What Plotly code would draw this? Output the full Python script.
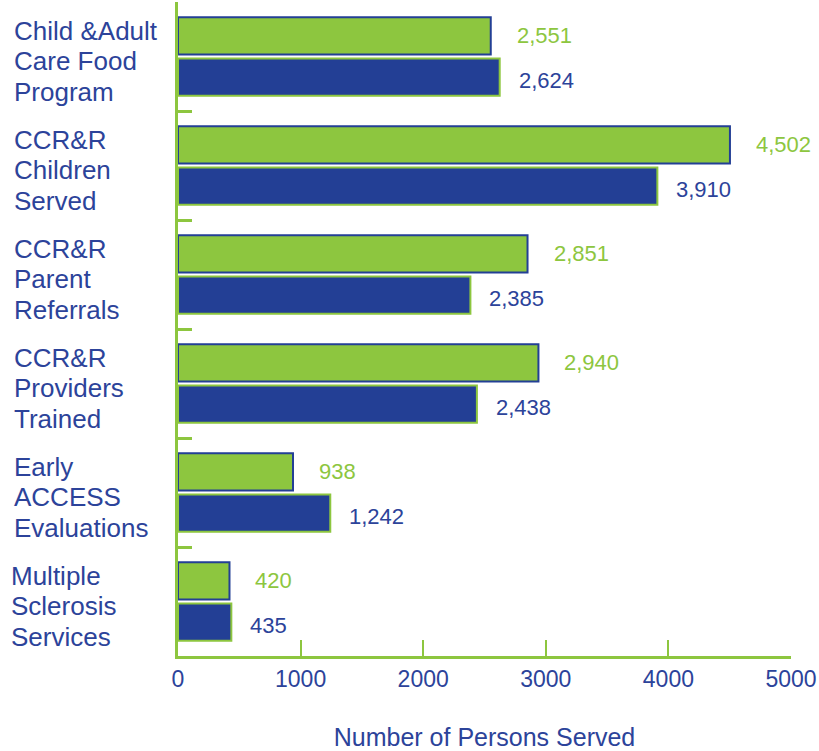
import plotly.graph_objects as go

categories = [
    "Child &Adult Care Food Program",
    "CCR&R Children Served",
    "CCR&R Parent Referrals",
    "CCR&R Providers Trained",
    "Early ACCESS Evaluations",
    "Multiple Sclerosis Services",
]
label_lines = [
    ["Child &Adult", "Care Food", "Program"],
    ["CCR&R", "Children", "Served"],
    ["CCR&R", "Parent", "Referrals"],
    ["CCR&R", "Providers", "Trained"],
    ["Early", "ACCESS", "Evaluations"],
    ["Multiple", "Sclerosis", "Services"],
]
series_green = [2551, 4502, 2851, 2940, 938, 420]
series_blue = [2624, 3910, 2385, 2438, 1242, 435]
x_ticks = [0, 1000, 2000, 3000, 4000, 5000]
x_title = "Number of Persons Served"

GREEN = "#8DC63F"
BLUE = "#233F95"
TXT_BLUE = "#2C439A"
SANS = "Liberation Sans, Arial, sans-serif"

fig = go.Figure()
fig.add_trace(go.Bar(y=categories, x=series_green, orientation="h",
                     marker=dict(color=GREEN, line=dict(color=BLUE, width=2)),
                     hoverinfo="x"))
fig.add_trace(go.Bar(y=categories, x=series_blue, orientation="h",
                     marker=dict(color=BLUE, line=dict(color=GREEN, width=2)),
                     hoverinfo="x"))

annotations = []
for i, (cat, lines) in enumerate(zip(categories, label_lines)):
    offsets = [-26, 4.5, 35]
    x0 = -0.275 if i == 5 else -0.270
    for line, off in zip(lines, offsets):
        annotations.append(dict(
            x=x0, xref="paper", y=cat, yref="y", text=line,
            xanchor="left", yanchor="middle", showarrow=False,
            yshift=-off, font=dict(family=SANS, size=26, color=TXT_BLUE)))
for cat, g, b in zip(categories, series_green, series_blue):
    annotations.append(dict(
        x=g, y=cat, text=f"{g:,}", xanchor="left", yanchor="middle",
        showarrow=False, xshift=24, yshift=21,
        font=dict(family=SANS, size=22, color=GREEN)))
    annotations.append(dict(
        x=b, y=cat, text=f"{b:,}", xanchor="left", yanchor="middle",
        showarrow=False, xshift=17, yshift=-24,
        font=dict(family=SANS, size=22, color=TXT_BLUE)))

fig.update_layout(
    width=819, height=751,
    margin=dict(l=178, r=28, t=2, b=95),
    paper_bgcolor="white", plot_bgcolor="white",
    barmode="group", bargap=0.24, bargroupgap=0.1,
    showlegend=False,
    annotations=annotations,
    xaxis=dict(
        range=[0, 5000], tickvals=x_ticks, ticktext=[str(t) for t in x_ticks],
        showgrid=False, zeroline=False,
        showline=True, linecolor=GREEN, linewidth=3,
        ticks="inside", ticklen=16, tickwidth=2, tickcolor=GREEN,
        tickfont=dict(family=SANS, size=23, color=TXT_BLUE),
        title=dict(text=x_title, standoff=40,
                   font=dict(family=SANS, size=25, color=TXT_BLUE)),
    ),
    yaxis=dict(
        autorange="reversed", showticklabels=False, showgrid=False,
        showline=True, linecolor=GREEN, linewidth=3,
        ticks="inside", ticklen=14, tickwidth=3, tickcolor=GREEN,
        tickson="boundaries",
    ),
)

fig.write_html("out.html", config={"displayModeBar": False},
               post_script="document.body.style.margin='0px';document.body.style.overflow='hidden';")
